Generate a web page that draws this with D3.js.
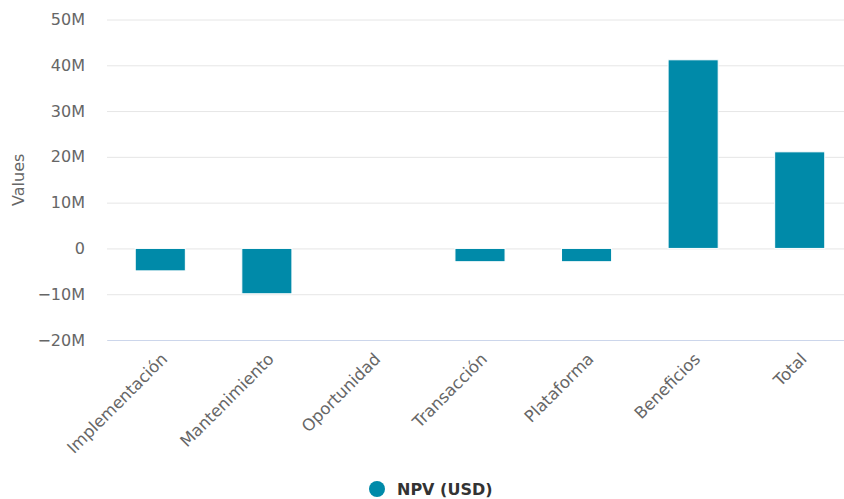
<!DOCTYPE html>
<html>
<head>
<meta charset="utf-8">
<script src="https://cdn.jsdelivr.net/npm/d3@7"></script>
<style>
  html, body { margin: 0; padding: 0; background: #ffffff; }
  svg { display: block; font-family: "DejaVu Sans", sans-serif; }
</style>
</head>
<body>
<svg id="chart" width="844" height="499"></svg>
<script>
// NPV components (millions of USD)
const categories = ["Implementación", "Mantenimiento", "Oportunidad", "Transacción", "Plataforma", "Beneficios", "Total"];
const npvValues = [-4.9, -9.9, 0, -2.9, -2.9, 41.2, 21.1];
const yTicks = [-20, -10, 0, 10, 20, 30, 40, 50];
const seriesName = "NPV (USD)";
const axisTitle = "Values";

const plot = { left: 107, right: 853, top: 19.5, bottom: 340 };
const barColor = "#008aa9";

const svg = d3.select("#chart");

const x = d3.scaleBand()
  .domain(categories)
  .range([plot.left, plot.right])
  .paddingInner(0.53)
  .paddingOuter(0.265);

const y = d3.scaleLinear()
  .domain([-20, 50])
  .range([plot.bottom, plot.top]);

const fmt = v => v === 0 ? "0" : (v < 0 ? "\u2212" + Math.abs(v) + "M" : v + "M");

// horizontal gridlines and value labels
const yAxis = d3.axisLeft(y)
  .tickValues(yTicks)
  .tickSize(-(plot.right - plot.left))
  .tickPadding(22)
  .tickFormat(fmt);

const gy = svg.append("g")
  .attr("transform", `translate(${plot.left},0)`)
  .call(yAxis);
gy.select(".domain").remove();
gy.selectAll(".tick line").attr("stroke", "#e6e6e6").attr("stroke-width", 1);
gy.selectAll(".tick text")
  .attr("fill", "#666666")
  .attr("font-size", 16)
  .attr("font-family", "DejaVu Sans, sans-serif");

// category axis along the bottom of the plot
const xAxis = d3.axisBottom(x).tickSize(0).tickPadding(0);
const gx = svg.append("g")
  .attr("transform", `translate(0,${plot.bottom})`)
  .call(xAxis);
gx.select(".domain").attr("stroke", "#ccd6eb");
gx.selectAll(".tick text")
  .attr("fill", "#666666")
  .attr("font-size", 16.5)
  .attr("font-family", "DejaVu Sans, sans-serif")
  .attr("text-anchor", "end")
  .attr("transform", "translate(4,16) rotate(-45)")
  .attr("dy", "0.35em")
  .attr("y", 0)
  .attr("x", 0);

// bars from the zero line
svg.append("g")
  .selectAll("rect")
  .data(npvValues)
  .join("rect")
  .attr("x", (d, i) => x(categories[i]))
  .attr("width", x.bandwidth())
  .attr("y", d => y(Math.max(0, d)))
  .attr("height", d => Math.abs(y(d) - y(0)))
  .attr("fill", barColor)
  .attr("stroke", "#ffffff")
  .attr("stroke-width", 1);

// axis title
svg.append("text")
  .attr("transform", `translate(24,${(plot.top + plot.bottom) / 2}) rotate(-90)`)
  .attr("text-anchor", "middle")
  .attr("fill", "#666666")
  .attr("font-size", 16)
  .text(axisTitle);

// legend
const legend = svg.append("g").attr("transform", "translate(377,489)");
legend.append("circle").attr("r", 8).attr("fill", barColor);
legend.append("text")
  .attr("x", 20)
  .attr("y", 5.5)
  .attr("fill", "#333333")
  .attr("font-size", 16)
  .attr("font-weight", "bold")
  .text(seriesName);
</script>
</body>
</html>
